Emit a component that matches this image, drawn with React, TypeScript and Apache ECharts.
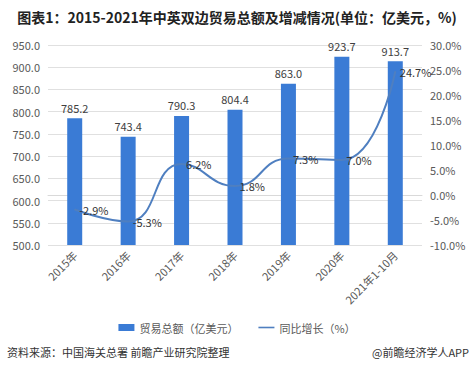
import React, { useEffect, useRef } from "react";
import * as echarts from "echarts";

const categories = ["2015年", "2016年", "2017年", "2018年", "2019年", "2020年", "2021年1-10月"];
const tradeTotal = [785.2, 743.4, 790.3, 804.4, 863.0, 923.7, 913.7];
const growth = [-2.9, -5.3, 6.2, 1.8, 7.3, 7.0, 24.7];
const titleText = "图表1：2015-2021年中英双边贸易总额及增减情况(单位：亿美元，%)";
const sourceText = "资料来源：中国海关总署 前瞻产业研究院整理";
const brandText = "@前瞻经济学人APP";
const barName = "贸易总额（亿美元）";
const lineName = "同比增长（%）";

const FONT = "'Noto Sans CJK SC', 'Noto Sans', sans-serif";

export default function App() {
  const ref = useRef<HTMLDivElement>(null);
  useEffect(() => {
    if (!ref.current) return;
    const chart = echarts.init(ref.current, null, { renderer: "svg" });
    chart.setOption({
      animation: false,
      backgroundColor: "#ffffff",
      textStyle: { fontFamily: FONT },
      title: {
        text: titleText,
        left: "center",
        top: 5,
        textStyle: { fontSize: 14, fontWeight: "bold", color: "#222", fontFamily: FONT },
      },
      grid: { left: 48, right: 52, top: 45, bottom: 126 },
      legend: {
        bottom: 33,
        left: "center",
        itemGap: 20,
        itemWidth: 16,
        itemHeight: 7,
        textStyle: { fontSize: 11, color: "#595959", fontFamily: FONT },
        data: [
          { name: barName, icon: "rect" },
          { name: lineName, icon: "path://M0,0 L20,0 L20,2 L0,2 Z" },
        ],
      },
      graphic: [
        {
          type: "text",
          x: 7,
          y: 346,
          style: { text: sourceText, fontSize: 11, fill: "#333", fontFamily: FONT },
        },
        {
          type: "text",
          x: 372,
          y: 346,
          style: { text: brandText, fontSize: 11, fill: "#333", fontFamily: FONT },
        },
      ],
      xAxis: {
        type: "category",
        data: categories,
        axisTick: { show: false },
        axisLine: { lineStyle: { color: "#d9d9d9" } },
        axisLabel: { rotate: 45, fontSize: 11, color: "#595959", margin: 8, interval: 0 },
      },
      yAxis: [
        {
          type: "value",
          min: 500,
          max: 950,
          interval: 50,
          axisLine: { show: false },
          axisTick: { show: false },
          splitLine: { lineStyle: { color: "#e0e0e0" } },
          axisLabel: {
            fontSize: 11,
            color: "#595959",
            formatter: (v: number) => v.toFixed(1),
          },
        },
        {
          type: "value",
          min: -10,
          max: 30,
          interval: 5,
          axisLine: { show: false },
          axisTick: { show: false },
          splitLine: { show: false },
          axisLabel: {
            fontSize: 11,
            color: "#595959",
            formatter: (v: number) => v.toFixed(1) + "%",
          },
        },
      ],
      series: [
        {
          name: barName,
          type: "bar",
          data: tradeTotal,
          barWidth: 15,
          itemStyle: { color: "#3a7bd5" },
          label: {
            show: true,
            position: "top",
            fontSize: 11,
            color: "#404040",
            formatter: (p: any) => Number(p.value).toFixed(1),
          },
        },
        {
          name: lineName,
          type: "line",
          yAxisIndex: 1,
          data: growth,
          smooth: true,
          symbol: "circle",
          symbolSize: 1,
          showSymbol: true,
          lineStyle: { color: "#4f7fc0", width: 2 },
          itemStyle: { color: "#4f7fc0" },
          label: {
            show: true,
            position: "right",
            distance: 4,
            fontSize: 11,
            color: "#333",
            formatter: (p: any) => Number(p.value).toFixed(1) + "%",
          },
        },
      ],
    });
    return () => chart.dispose();
  }, []);
  return (
    <div
      ref={ref}
      style={{ position: "absolute", left: 0, top: 0, width: 474, height: 371 }}
    />
  );
}
